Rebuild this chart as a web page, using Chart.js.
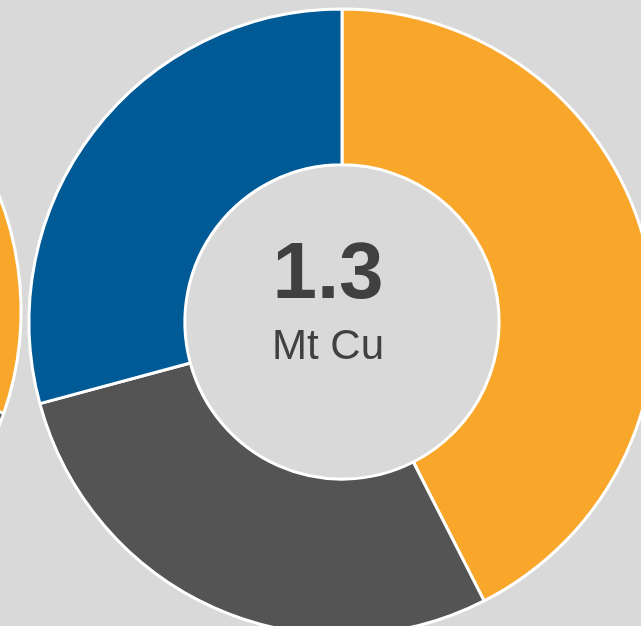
<!DOCTYPE html>
<html>
<head>
<meta charset="utf-8">
<script src="https://cdn.jsdelivr.net/npm/chart.js@4"></script>
<style>
  html, body { margin:0; padding:0; background:#d9d9d9; width:641px; height:626px; overflow:hidden; }
  #wrap { position:relative; width:641px; height:626px; overflow:hidden; }
  canvas { position:absolute; }
  #main { left:-8px; top:-28px; }
  #side { left:-642px; top:-39px; }
  .lbl { position:absolute; left:228px; width:200px; text-align:center; color:#404040;
         font-family:"Liberation Sans", Arial, sans-serif; white-space:nowrap; }
  #val { top:225px; font-size:80px; font-weight:bold; line-height:92px; }
  #unit { top:321px; font-size:42px; line-height:48px; }
</style>
</head>
<body>
<div id="wrap">
  <canvas id="side" width="700" height="700"></canvas>
  <canvas id="main" width="700" height="700"></canvas>
  <div class="lbl" id="val">1.3</div>
  <div class="lbl" id="unit">Mt Cu</div>
</div>
<script>
// Segment shares (%), clockwise from 12 o'clock
const categories = ["Orange", "Grey", "Blue"];
const mainValues = [42.5, 28.3, 29.2];
const sideValues = [30.3, 35.0, 34.7];   // neighbouring donut (only orange part visible)
const colors = ["#F9A72B", "#545454", "#005A96"];
const centerValue = "1.3";
const centerUnit = "Mt Cu";

document.getElementById('val').textContent = centerValue;
document.getElementById('unit').textContent = centerUnit;

function donut(id, values) {
  return new Chart(document.getElementById(id), {
    type: 'doughnut',
    data: {
      labels: categories,
      datasets: [{
        data: values,
        backgroundColor: colors,
        borderColor: '#ffffff',
        borderWidth: 3,
        hoverOffset: 0
      }]
    },
    options: {
      responsive: false,
      animation: false,
      radius: 313,
      cutout: '50.2%',
      layout: { padding: 0 },
      plugins: { legend: { display: false }, tooltip: { enabled: false } },
      events: []
    }
  });
}
donut('side', sideValues);
donut('main', mainValues);
</script>
</body>
</html>
